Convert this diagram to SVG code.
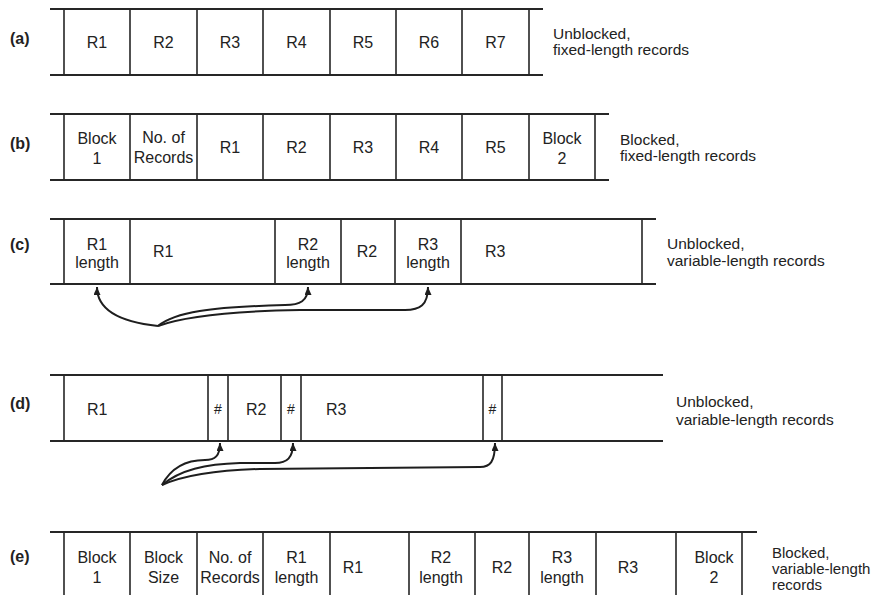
<svg xmlns="http://www.w3.org/2000/svg" width="877" height="595" viewBox="0 0 877 595">
<style>
  text { font-family: "Liberation Sans", Arial, sans-serif; fill: #222; }
  .c { font-size: 16px; text-anchor: middle; }
  .l { font-size: 16px; }
  .s { font-size: 14px; text-anchor: middle; }
  .side { font-size: 15.5px; }
  .side2 { font-size: 15px; }
  .tag { font-size: 16px; font-weight: bold; }
  .h { stroke: #262626; stroke-width: 2; fill: none; }
  .v { stroke: #262626; stroke-width: 1.6; fill: none; }
  .arr { stroke: #1e1e1e; stroke-width: 2; fill: none; marker-end: url(#ah); }
</style>
<defs>
  <marker id="ah" markerUnits="userSpaceOnUse" markerWidth="9" markerHeight="8" refX="8" refY="3.5" orient="auto">
    <path d="M0,0 L8,3.5 L0,7 z" fill="#1e1e1e"/>
  </marker>
</defs>
<rect width="877" height="595" fill="#fff"/>

<g id="row-a">
  <text class="tag" x="10" y="44">(a)</text>
  <path class="h" d="M50,9 H543 M50,75 H543"/>
  <path class="v" d="M64,9 V75 M130,9 V75 M197,9 V75 M263,9 V75 M330,9 V75 M396,9 V75 M462,9 V75 M529,9 V75"/>
  <text class="c" x="97" y="48">R1</text>
  <text class="c" x="163.5" y="48">R2</text>
  <text class="c" x="230" y="48">R3</text>
  <text class="c" x="296.5" y="48">R4</text>
  <text class="c" x="363" y="48">R5</text>
  <text class="c" x="429" y="48">R6</text>
  <text class="c" x="495.5" y="48">R7</text>
  <text class="side" x="553" y="39">Unblocked,</text>
  <text class="side" x="553" y="55">fixed-length records</text>
</g>

<g id="row-b">
  <text class="tag" x="10" y="149">(b)</text>
  <path class="h" d="M50,114 H609 M50,180 H609"/>
  <path class="v" d="M64,114 V180 M130,114 V180 M197,114 V180 M263,114 V180 M330,114 V180 M396,114 V180 M462,114 V180 M529,114 V180 M595,114 V180"/>
  <text class="c" x="97" y="144">Block</text>
  <text class="c" x="97" y="164">1</text>
  <text class="c" x="163.5" y="143">No. of</text>
  <text class="c" x="163.5" y="163">Records</text>
  <text class="c" x="230" y="153">R1</text>
  <text class="c" x="296.5" y="153">R2</text>
  <text class="c" x="363" y="153">R3</text>
  <text class="c" x="429" y="153">R4</text>
  <text class="c" x="495.5" y="153">R5</text>
  <text class="c" x="562" y="144">Block</text>
  <text class="c" x="562" y="164">2</text>
  <text class="side" x="620" y="145">Blocked,</text>
  <text class="side" x="620" y="161">fixed-length records</text>
</g>

<g id="row-c">
  <text class="tag" x="10" y="250">(c)</text>
  <path class="h" d="M50,219 H656 M50,284 H656"/>
  <path class="v" d="M64,219 V284 M130,219 V284 M275,219 V284 M341,219 V284 M395,219 V284 M461,219 V284 M642,219 V284"/>
  <text class="c" x="97" y="250">R1</text>
  <text class="c" x="97" y="268">length</text>
  <text class="l" x="153" y="257">R1</text>
  <text class="c" x="308" y="250">R2</text>
  <text class="c" x="308" y="268">length</text>
  <text class="c" x="367" y="257">R2</text>
  <text class="c" x="428" y="250">R3</text>
  <text class="c" x="428" y="268">length</text>
  <text class="l" x="485" y="257">R3</text>
  <text class="side" x="667" y="249">Unblocked,</text>
  <text class="side" x="667" y="266">variable-length records</text>
</g>

<g id="row-d">
  <text class="tag" x="10" y="409">(d)</text>
  <path class="h" d="M50,375 H663 M50,441 H663"/>
  <path class="v" d="M64,375 V441 M208,375 V441 M228,375 V441 M281,375 V441 M301,375 V441 M483,375 V441 M502,375 V441"/>
  <text class="l" x="87" y="415">R1</text>
  <text class="s" x="218" y="414">#</text>
  <text class="l" x="246" y="415">R2</text>
  <text class="s" x="291" y="414">#</text>
  <text class="l" x="326" y="415">R3</text>
  <text class="s" x="492.5" y="414">#</text>
  <text class="side" x="676" y="407">Unblocked,</text>
  <text class="side" x="676" y="425">variable-length records</text>
</g>

<g id="row-e">
  <text class="tag" x="10" y="562">(e)</text>
  <path class="h" d="M50,532 H757"/>
  <path class="v" d="M64,532 V600 M130,532 V600 M197,532 V600 M263,532 V600 M330,532 V600 M409,532 V600 M475,532 V600 M529,532 V600 M596,532 V600 M676,532 V600 M742,532 V600"/>
  <text class="c" x="97" y="563">Block</text>
  <text class="c" x="97" y="583">1</text>
  <text class="c" x="163.5" y="563">Block</text>
  <text class="c" x="163.5" y="583">Size</text>
  <text class="c" x="230" y="563">No. of</text>
  <text class="c" x="230" y="583">Records</text>
  <text class="c" x="296.5" y="563">R1</text>
  <text class="c" x="296.5" y="583">length</text>
  <text class="c" x="353" y="573">R1</text>
  <text class="c" x="441" y="563">R2</text>
  <text class="c" x="441" y="583">length</text>
  <text class="c" x="502" y="573">R2</text>
  <text class="c" x="562" y="563">R3</text>
  <text class="c" x="562" y="583">length</text>
  <text class="c" x="628" y="573">R3</text>
  <text class="c" x="714" y="563">Block</text>
  <text class="c" x="714" y="583">2</text>
  <text class="side2" x="772" y="558">Blocked,</text>
  <text class="side2" x="772" y="574">variable-length</text>
  <text class="side2" x="772" y="590">records</text>
</g>

<g id="connectors">
  <path class="arr" d="M158,326 C120,322 97,310 97,287"/>
  <path class="arr" d="M158,326 C175,312 210,307 285,305 C300,305 308,301 308,287"/>
  <path class="arr" d="M158,326 C185,316 240,311 300,310 L405,310 C420,310 428,305 428,287"/>
  <path class="arr" d="M162,485 C172,466 188,460 205,460 C215,460 220,456 220,443"/>
  <path class="arr" d="M162,485 C180,470 205,464 240,463 L275,463 C287,463 293,458 293,443"/>
  <path class="arr" d="M162,485 C185,475 220,470 260,469 L480,467 C490,467 495,462 495,443"/>
</g>
</svg>
